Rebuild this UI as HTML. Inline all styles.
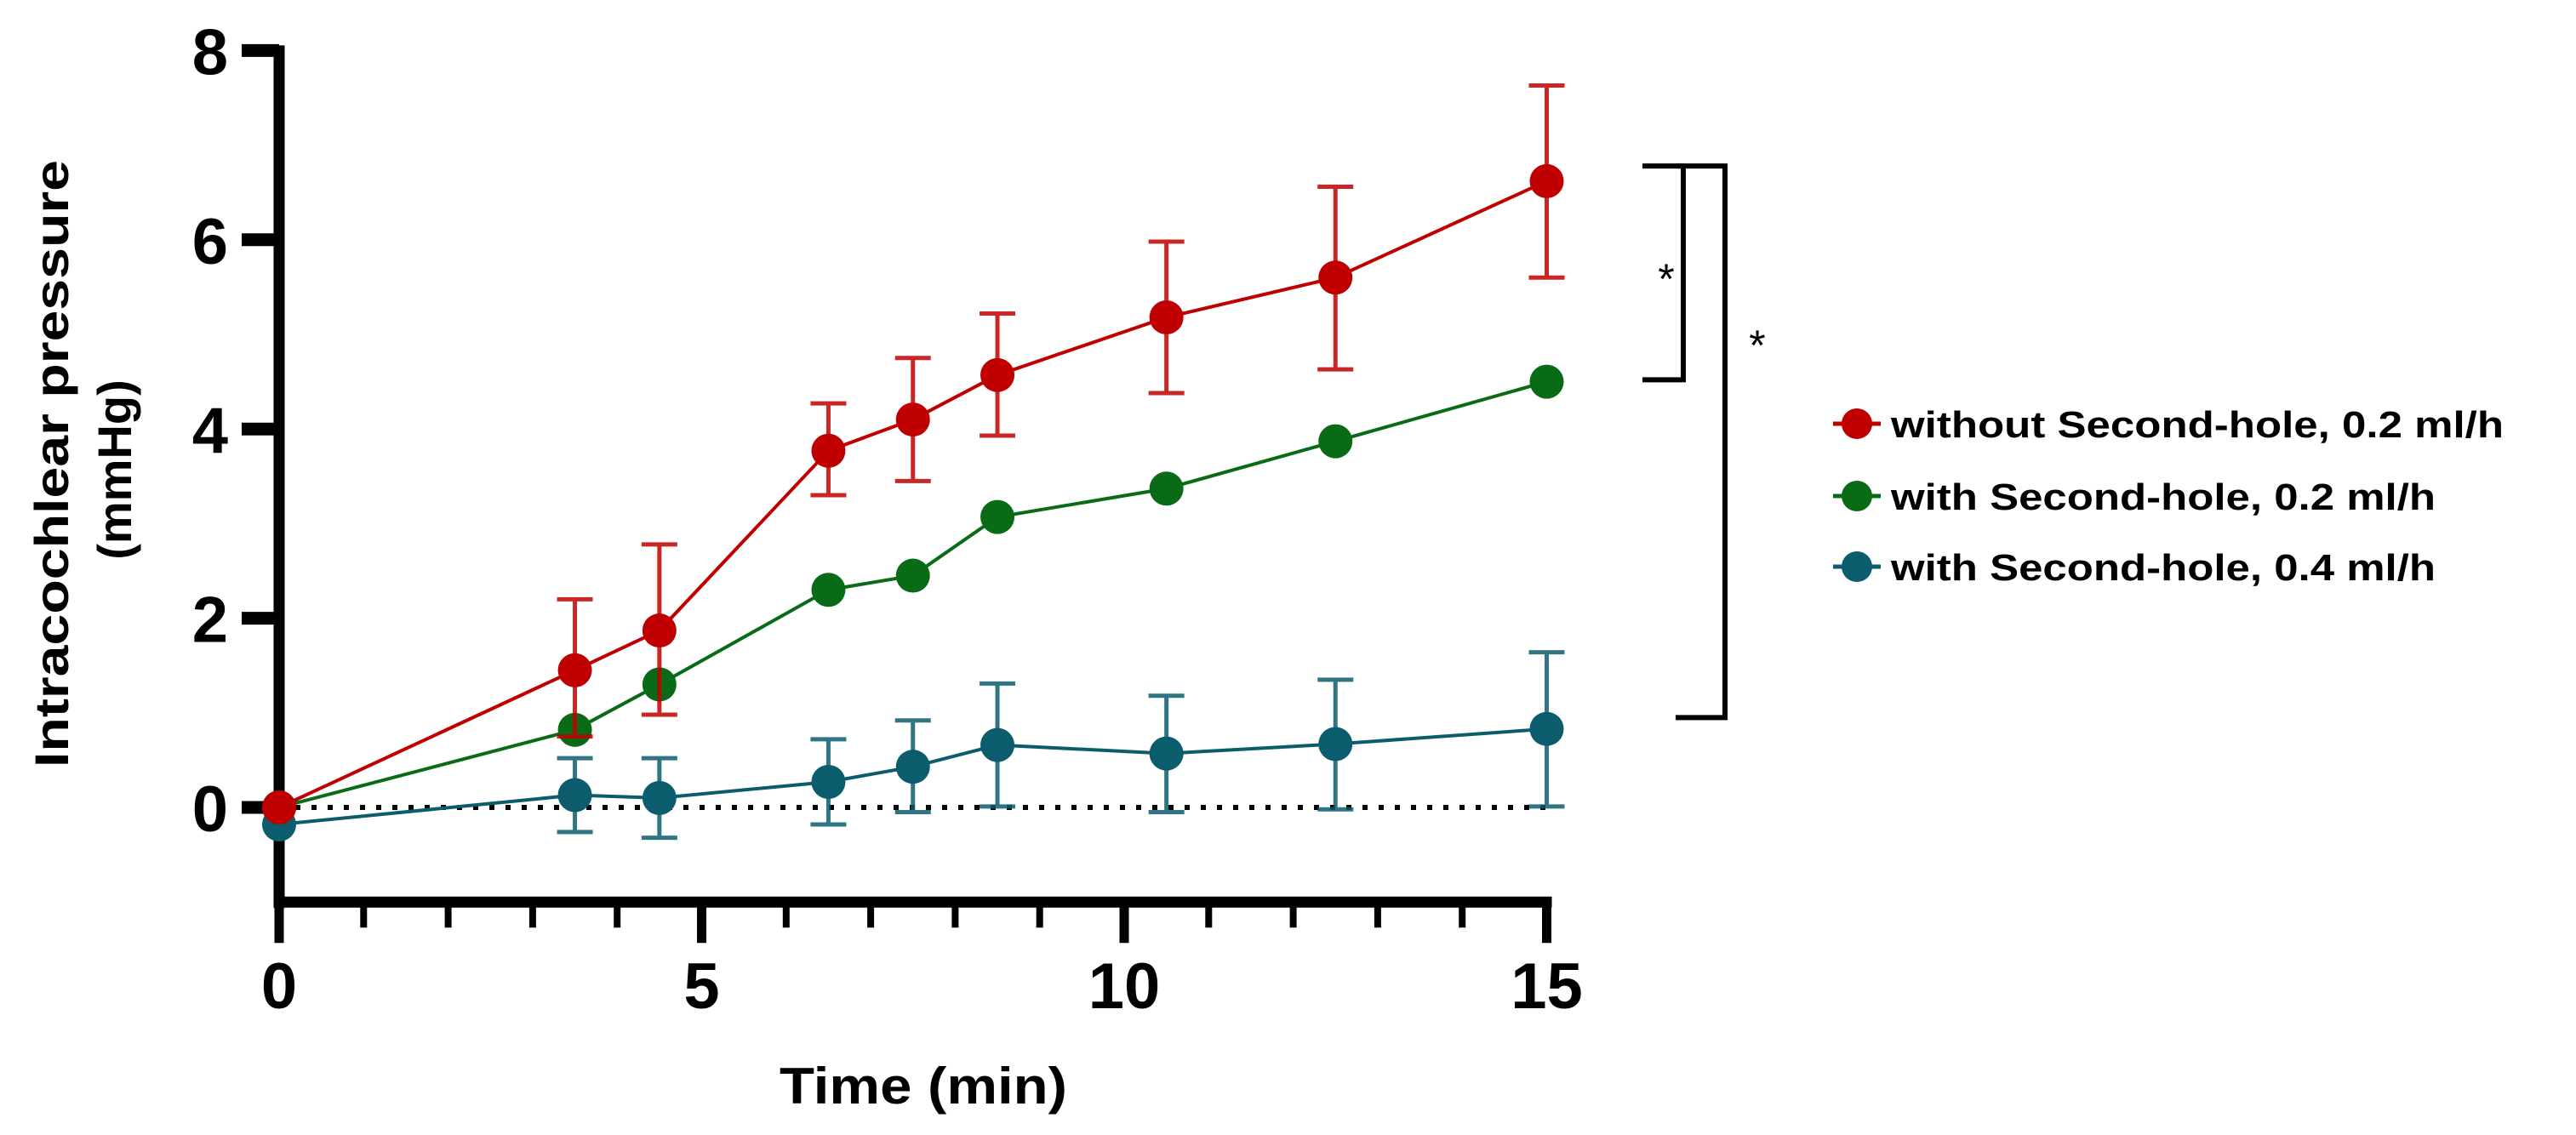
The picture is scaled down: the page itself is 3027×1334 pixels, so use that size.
<!DOCTYPE html>
<html><head><meta charset="utf-8"><style>
html,body{margin:0;padding:0;background:#fff;}
svg{display:block;font-family:"Liberation Sans",sans-serif;font-weight:bold;}
</style></head><body>
<svg id="chart" width="3027" height="1334" viewBox="0 0 3027 1334" xmlns="http://www.w3.org/2000/svg">
<g id="axes"></g>
<g id="series"></g>
<g id="annot"></g>
<g id="legend"></g>
</svg>
<script>
const times = [0, 3.5, 4.5, 6.5, 7.5, 8.5, 10.5, 12.5, 15];
const redMean = [0, 1.45, 1.87, 3.77, 4.1, 4.57, 5.18, 5.6, 6.62];
const redUpper = [0, 2.2, 2.78, 4.27, 4.75, 5.22, 5.98, 6.56, 7.63];
const redLower = [0, 0.75, 0.98, 3.3, 3.45, 3.93, 4.38, 4.63, 5.6];
const greenMean = [0, 0.82, 1.3, 2.3, 2.45, 3.07, 3.37, 3.87, 4.5];
const tealMean = [-0.18, 0.13, 0.1, 0.27, 0.43, 0.66, 0.57, 0.67, 0.83];
const tealUpper = [-0.18, 0.52, 0.52, 0.72, 0.92, 1.31, 1.18, 1.35, 1.64];
const tealLower = [-0.18, -0.26, -0.32, -0.18, -0.05, 0.01, -0.05, -0.02, 0.01];
const yTicks = [0, 2, 4, 6, 8];
const xTicks = [0, 5, 10, 15];
const legendLabels = ["without Second-hole, 0.2 ml/h", "with Second-hole, 0.2 ml/h", "with Second-hole, 0.4 ml/h"];

const NS = "http://www.w3.org/2000/svg";
const X0 = 328, XS = 99.3, Y0 = 949, YS = 111.2;
const sx = v => X0 + v * XS;
const sy = v => Y0 - v * YS;
function mk(tag, attrs, parent, text) {
  const e = document.createElementNS(NS, tag);
  for (const k in attrs) e.setAttribute(k, attrs[k]);
  if (text !== undefined) e.textContent = text;
  parent.appendChild(e);
  return e;
}
const axes = document.getElementById('axes');
const series = document.getElementById('series');
const annot = document.getElementById('annot');
const legend = document.getElementById('legend');

let e = mk('line', {x1: sx(0), y1: sy(8) - 6, x2: sx(0), y2: sy(-1) + 7, stroke: '#000', 'stroke-width': 13}, axes);


for (const t of yTicks) {
  e = mk('line', {x1: sx(0) - 44, y1: sy(t), x2: sx(0), y2: sy(t), stroke: '#000', 'stroke-width': 15}, axes);
  
  
  e = mk('text', {x: 268, y: sy(t) + 28, 'text-anchor': 'end', 'font-size': 76}, axes, String(t));
  
  
}
e = mk('line', {x1: sx(0) - 6, y1: sy(-1), x2: sx(15) + 6, y2: sy(-1), stroke: '#000', 'stroke-width': 13}, axes);


for (let t = 0; t <= 15; t++) {
  const major = xTicks.includes(t);
  e = mk('line', {x1: sx(t), y1: sy(-1), x2: sx(t), y2: sy(-1) + (major ? 48 : 30), stroke: '#000', 'stroke-width': major ? 11 : 8}, axes);
  
  
}
for (const t of xTicks) {
  e = mk('text', {x: sx(t), y: 1185, 'text-anchor': 'middle', 'font-size': 76}, axes, String(t));
  
  
}
e = mk('text', {x: 1085, y: 1297, 'text-anchor': 'middle', 'font-size': 60, textLength: 338, lengthAdjust: 'spacingAndGlyphs'}, axes, 'Time (min)');


e = mk('text', {x: 0, y: 0, 'text-anchor': 'middle', 'font-size': 56, transform: 'translate(80,545) rotate(-90)', textLength: 714, lengthAdjust: 'spacingAndGlyphs'}, axes, 'Intracochlear pressure');


e = mk('text', {x: 0, y: 0, 'text-anchor': 'middle', 'font-size': 56, transform: 'translate(154,552) rotate(-90)'}, axes, '(mmHg)');


e = mk('line', {x1: sx(0), y1: sy(0), x2: sx(15), y2: sy(0), stroke: '#000', 'stroke-width': 6, 'stroke-dasharray': '6 13'}, axes);



function drawSeries(name, color, mean, up, lo) {
  const g = mk('g', {}, series);
  
  
  if (up) {
    times.forEach((t, i) => {
      if (up[i] === lo[i]) return;
      const x = sx(t);
      const eb = mk('path', {d: `M${x},${sy(up[i])}V${sy(lo[i])}M${x-21},${sy(up[i])}H${x+21}M${x-21},${sy(lo[i])}H${x+21}`, stroke: color, 'stroke-width': 5, fill: 'none', opacity: 0.85}, g);
      
      
    });
  }
  const pts = times.map((t, i) => sx(t) + ',' + sy(mean[i])).join(' ');
  const pl = mk('polyline', {points: pts, fill: 'none', stroke: color, 'stroke-width': 4}, g);
  
  
  times.forEach((t, i) => {
    const c = mk('circle', {cx: sx(t), cy: sy(mean[i]), r: 20, fill: color}, g);
    
    
  });
}
drawSeries('teal', '#0b5d6e', tealMean, tealUpper, tealLower);
drawSeries('green', '#0a6b17', greenMean, null, null);
drawSeries('red', '#c00000', redMean, redUpper, redLower);

e = mk('path', {d: `M1930,${sy(6.78)}H1978V${sy(4.52)}H1930`, fill: 'none', stroke: '#000', 'stroke-width': 6}, annot);


e = mk('path', {d: `M1969,${sy(6.78)}H2027V${sy(0.95)}H1969`, fill: 'none', stroke: '#000', 'stroke-width': 6}, annot);


e = mk('text', {x: 1958, y: 345, 'text-anchor': 'middle', 'font-size': 50, 'font-weight': 'normal'}, annot, '*');


e = mk('text', {x: 2065, y: 423, 'text-anchor': 'middle', 'font-size': 50, 'font-weight': 'normal'}, annot, '*');



const legColors = ['#c00000', '#0a6b17', '#0b5d6e'];
const legY = [498, 583, 666];
legendLabels.forEach((lab, i) => {
  const g = mk('g', {}, legend);
  
  
  mk('line', {x1: 2154, y1: legY[i], x2: 2210, y2: legY[i], stroke: legColors[i], 'stroke-width': 5}, g);
  mk('circle', {cx: 2182, cy: legY[i], r: 18, fill: legColors[i]}, g);
  const tx = mk('text', {x: 2222, y: legY[i] + 16, 'font-size': 44, textLength: [720, 640, 640][i], lengthAdjust: 'spacingAndGlyphs'}, g, lab);
  
  
});
</script>
</body></html>
